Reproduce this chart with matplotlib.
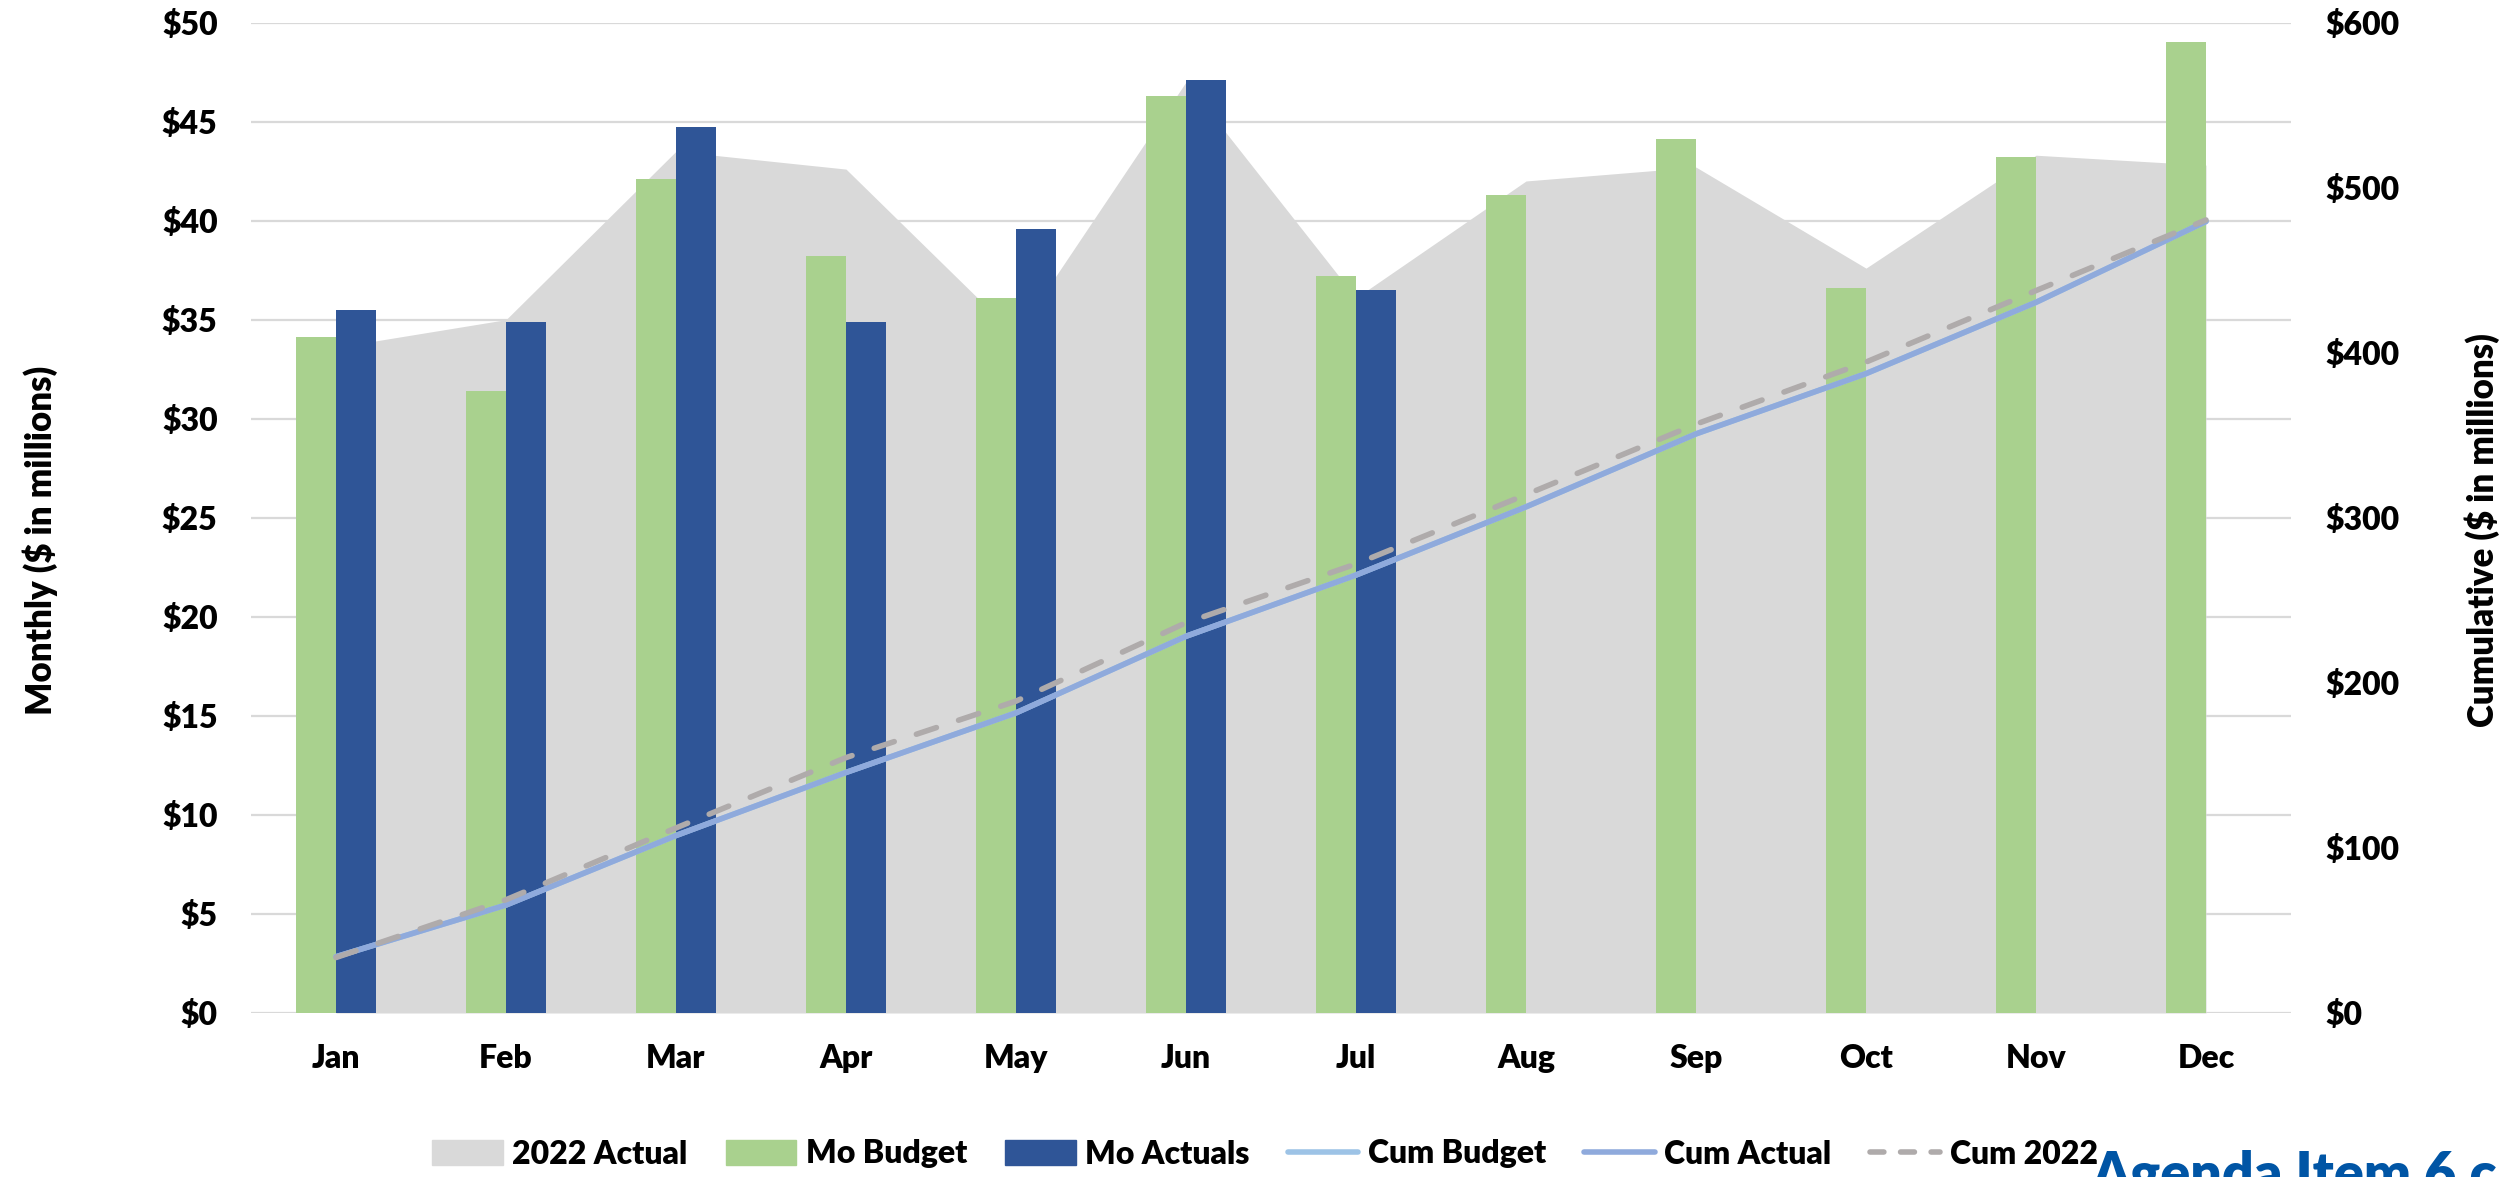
import numpy as np
import matplotlib
matplotlib.use("Agg")
import matplotlib.pyplot as plt
from matplotlib.patches import Patch
from matplotlib.lines import Line2D

plt.rcParams['font.family'] = ['Lato', 'DejaVu Sans']
plt.rcParams['font.weight'] = 'heavy'

months = ['Jan', 'Feb', 'Mar', 'Apr', 'May', 'Jun', 'Jul', 'Aug', 'Sep', 'Oct', 'Nov', 'Dec']

# monthly values ($ millions)
actual_2022 = [33.6, 35.0, 43.5, 42.6, 34.2, 47.0, 36.1, 42.0, 42.7, 37.6, 43.3, 42.8]
mo_budget = [34.1, 31.4, 42.1, 38.2, 36.1, 46.3, 37.2, 41.3, 44.1, 36.6, 43.2, 49.0]
mo_actuals = [35.5, 34.9, 44.7, 34.9, 39.6, 47.1, 36.5]

# cumulative values ($ millions)
cum_budget = [34.1, 65.4, 107.5, 145.7, 181.8, 228.2, 265.3, 306.6, 350.8, 387.3, 430.5, 479.5]
cum_actual = [34.1, 65.4, 107.5, 145.7, 181.8, 228.2, 265.3, 306.6, 350.8, 387.3, 430.5, 479.5]
cum_2022 = [33.6, 68.6, 112.1, 154.7, 188.9, 236.4, 272.0, 314.0, 356.7, 394.3, 437.6, 480.4]

left_ticks = [0, 5, 10, 15, 20, 25, 30, 35, 40, 45, 50]
right_ticks = [0, 100, 200, 300, 400, 500, 600]

c_area = '#D9D9D9'
c_budget = '#A9D18E'
c_actual = '#2F5597'
c_cbud = '#9DC3E6'
c_cact = '#8FAADC'
c_c22 = '#AFABAB'

fs = 23

fig = plt.figure(figsize=(25.14, 11.77), dpi=100)
ax = fig.add_axes([251/2514, 1 - 1013/1177, 2040/2514, 990.5/1177])
ax2 = ax.twinx()

x = np.arange(len(months))
w = 0.238

ax.fill_between(x, 0, actual_2022, color=c_area, lw=0, zorder=1)
ax.bar(x - w/2, mo_budget, w, color=c_budget, zorder=2)
ax.bar(x[:len(mo_actuals)] + w/2, mo_actuals, w, color=c_actual, zorder=2)

ax2.plot(x, cum_budget, color=c_cbud, lw=4, solid_capstyle='round', zorder=3)
ax2.plot(x, cum_actual, color=c_cact, lw=4, solid_capstyle='round', zorder=4)
ax2.plot(x, cum_2022, color=c_c22, lw=4, dashes=(3.8, 4.2), dash_capstyle='round', zorder=5)

ax.set_xlim(-0.5, 11.5)
ax.set_ylim(0, 50)
ax2.set_ylim(0, 600)

ax.set_yticks(left_ticks)
ax.set_yticklabels(['$' + str(t) for t in left_ticks])
ax2.set_yticks(right_ticks)
ax2.set_yticklabels(['$' + str(t) for t in right_ticks])
ax.set_xticks(x)
ax.set_xticklabels(months)

ax.grid(axis='y', color='#D9D9D9', lw=1.6, zorder=0)
ax.set_axisbelow(True)
for a in (ax, ax2):
    for s in a.spines.values():
        s.set_visible(False)
    a.tick_params(length=0, labelsize=fs)
ax.tick_params(axis='y', pad=24)
ax.tick_params(axis='x', pad=22)
ax2.tick_params(axis='y', pad=25)
ax2.patch.set_visible(False)

fig.text(40/2514, 1 - 540/1177, 'Monthly ($ in millions)', rotation=90,
         ha='center', va='center', fontsize=25)
fig.text(2482/2514, 1 - 530/1177, 'Cumulative ($ in millions)', rotation=90,
         ha='center', va='center', fontsize=25)

handles = [
    Patch(color=c_area, label='2022 Actual'),
    Patch(color=c_budget, label='Mo Budget'),
    Patch(color=c_actual, label='Mo Actuals'),
    Line2D([], [], color=c_cbud, lw=4, solid_capstyle='round', label='Cum Budget'),
    Line2D([], [], color=c_cact, lw=4, solid_capstyle='round', label='Cum Actual'),
    Line2D([], [], color=c_c22, lw=4, dashes=(2.5, 3), dash_capstyle='round', label='Cum 2022'),
]
fig.legend(handles=handles, loc='center', bbox_to_anchor=(1265/2514, 1 - 1154/1177),
           ncol=6, frameon=False, fontsize=fs, handlelength=2.2, handleheight=0.8,
           handletextpad=0.3, columnspacing=1.2)

fig.text(2092/2514, 1 - 1150/1177, 'Agenda Item 6.c', ha='left', va='top',
         fontsize=40, color='#0055A5')

fig.savefig('out.png', dpi=100)
